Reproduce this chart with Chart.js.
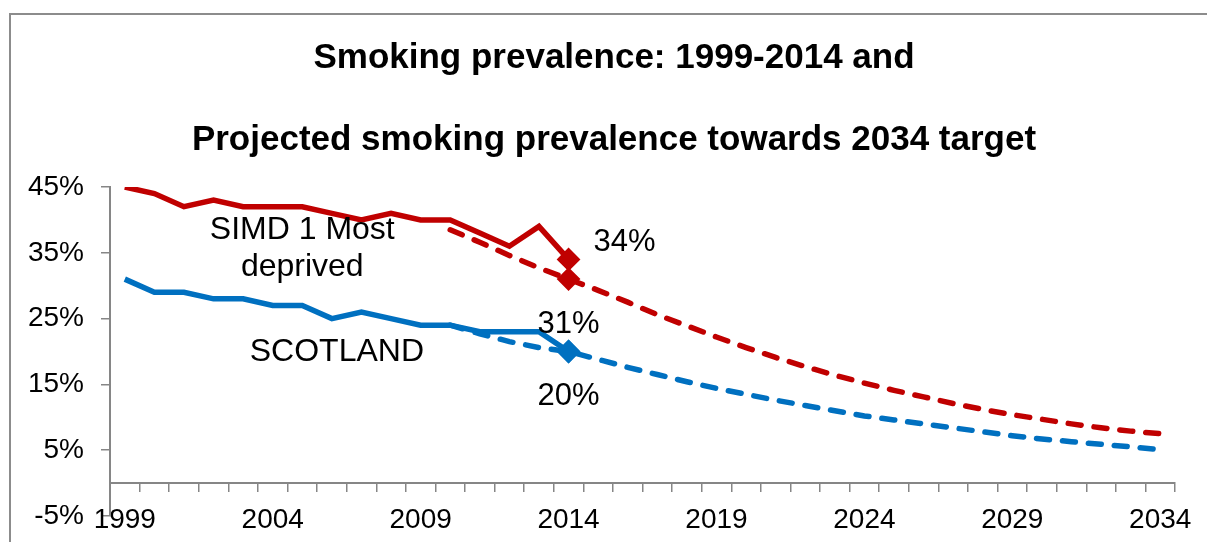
<!DOCTYPE html>
<html>
<head>
<meta charset="utf-8">
<title>Smoking prevalence</title>
<script src="https://cdn.jsdelivr.net/npm/chart.js@4.4.1/dist/chart.umd.min.js"></script>
<style>
  html, body { margin: 0; padding: 0; background: #fff; }
  #wrap { width: 1207px; height: 542px; }
</style>
</head>
<body>
<div id="wrap"><canvas id="smokingChart" width="1207" height="542"></canvas></div>
<script>
// Years on the x axis (one category per year)
const years = ['1999', '2000', '2001', '2002', '2003', '2004', '2005', '2006', '2007', '2008',
    '2009', '2010', '2011', '2012', '2013', '2014', '2015', '2016', '2017', '2018',
    '2019', '2020', '2021', '2022', '2023', '2024', '2025', '2026', '2027', '2028',
    '2029', '2030', '2031', '2032', '2033', '2034'];

// Observed prevalence (%), 1999-2014
const simdObserved = [45, 44, 42, 43, 42, 42, 42, 41, 40, 41, 40, 40, 38, 36, 39, 34];
const scotlandObserved = [31, 29, 29, 28, 28, 27, 27, 25, 26, 25, 24, 24, 23, 23, 23, 20];

// Projected prevalence (%), 2010-2034
const projectionStart = '2010';
const simdProjected = [38.5, 36.6, 34.6, 32.7, 31, 29.3, 27.5, 25.6, 23.9, 22.2, 20.6, 19.1, 17.7,
    16.4, 15.2, 14.1, 13.1, 12.1, 11.2, 10.4, 9.7, 9.0, 8.4, 7.9, 7.5];
const scotlandProjected = [24, 22.7, 21.5, 20.6, 20, 18.8, 17.6, 16.5, 15.4, 14.4, 13.5, 12.6, 11.8,
    11.0, 10.2, 9.6, 9.0, 8.4, 7.8, 7.2, 6.7, 6.3, 5.9, 5.5, 5.1];

// Y axis tick values (%)
const yTicks = [-5, 5, 15, 25, 35, 45];

const RED = '#C00000';
const BLUE = '#0070C0';
const AXIS_GREY = '#868686';
const FONT = "'Liberation Sans', Arial, sans-serif";
const markerYear = years.indexOf('2014');

// pad a series out to the full year range
function spread(values, firstYear) {
    const start = years.indexOf(firstYear);
    return years.map((y, i) => (i >= start && i < start + values.length) ? values[i - start] : null);
}

function endMarker(ctx) {
    return ctx.dataIndex === markerYear ? 8 : 0;
}

// Excel-style outer chart border; also centre the title on the framed area
const frame = {
    id: 'frame',
    afterLayout(chart) {
        if (chart.titleBlock) chart.titleBlock.left = 53;
    },
    beforeDraw(chart) {
        const c = chart.ctx;
        c.save();
        c.strokeStyle = '#8c8c8c';
        c.lineWidth = 2;
        c.strokeRect(10, 14, chart.width + 20, chart.height + 20);
        c.restore();
    }
};

// Series names and value call-outs written straight onto the plot
const notes = {
    id: 'notes',
    afterDatasetsDraw(chart, args, opts) {
        const c = chart.ctx;
        const xs = chart.scales.x;
        const ys = chart.scales.y;
        c.save();
        c.fillStyle = '#000';
        c.textAlign = 'center';
        c.textBaseline = 'middle';
        c.font = opts.nameFont;
        opts.names.forEach(n => {
            const px = xs.getPixelForValue(n.x);
            n.lines.forEach((line, k) => {
                c.fillText(line, px, ys.getPixelForValue(n.y) + k * n.gap);
            });
        });
        c.font = opts.valueFont;
        opts.values.forEach(v => {
            const ds = chart.data.datasets[v.dataset];
            const val = ds.data[markerYear];
            const px = xs.getPixelForValue(markerYear) + v.dx;
            const py = ys.getPixelForValue(val) + v.dy;
            c.fillText(Math.round(val) + '%', px, py);
        });
        c.restore();
    }
};

const ctx = document.getElementById('smokingChart').getContext('2d');
const smokingChart = new Chart(ctx, {
    type: 'line',
    data: {
        labels: years,
        datasets: [{
            label: 'SIMD 1 Most deprived',
            data: spread(simdObserved, '1999'),
            borderColor: RED, backgroundColor: RED, borderWidth: 5.5,
            pointStyle: 'rectRot', pointRadius: endMarker, order: 0
        }, {
            label: 'SCOTLAND',
            data: spread(scotlandObserved, '1999'),
            borderColor: BLUE, backgroundColor: BLUE, borderWidth: 5.5,
            pointStyle: 'rectRot', pointRadius: endMarker, order: 1
        }, {
            label: 'SIMD 1 projected',
            data: spread(simdProjected, projectionStart),
            borderColor: RED, backgroundColor: RED, borderWidth: 5.5,
            borderDash: [13, 13], borderCapStyle: 'round',
            pointStyle: 'rectRot', pointRadius: endMarker, order: 2
        }, {
            label: 'SCOTLAND projected',
            data: spread(scotlandProjected, projectionStart),
            borderColor: BLUE, backgroundColor: BLUE, borderWidth: 5.5,
            borderDash: [13, 13], borderCapStyle: 'round',
            pointStyle: 'rectRot', pointRadius: endMarker, order: 3
        }]
    },
    options: {
        responsive: false,
        animation: false,
        spanGaps: false,
        layout: { padding: { top: 0, left: 0, right: 32, bottom: 26 } },
        plugins: {
            legend: { display: false },
            tooltip: { enabled: false },
            title: {
                display: true,
                text: ['Smoking prevalence: 1999-2014 and', 'Projected smoking prevalence towards 2034 target'],
                color: '#000',
                font: { family: FONT, size: 35, weight: 'bold', lineHeight: 82 / 35 },
                padding: { top: 17, bottom: 6 }
            },
            notes: {
                nameFont: '32px ' + FONT,
                valueFont: '31px ' + FONT,
                names: [
                    { lines: ['SIMD 1 Most', 'deprived'], x: 6, y: 38.4, gap: 37 },
                    { lines: ['SCOTLAND'], x: 7.17, y: 19.9, gap: 0 }
                ],
                values: [
                    { dataset: 0, dx: 56, dy: -17 },
                    { dataset: 2, dx: 0, dy: 45 },
                    { dataset: 1, dx: 0, dy: 45 }
                ]
            }
        },
        scales: {
            x: {
                type: 'category',
                position: { y: 0 },
                offset: true,
                grid: {
                    offset: true, drawOnChartArea: false, drawTicks: true,
                    tickLength: 8, color: AXIS_GREY, lineWidth: 1.5
                },
                border: { color: AXIS_GREY, width: 2 },
                ticks: {
                    autoSkip: false, maxRotation: 0, padding: 12,
                    color: '#000', font: { family: FONT, size: 28 },
                    callback: (v, i) => (i % 5 === 0 ? years[i] : '')
                }
            },
            y: {
                min: yTicks[0],
                max: yTicks[yTicks.length - 1],
                afterFit: s => {
                    s.width = 110;
                    s.paddingTop = 0;
                    s.paddingBottom = 0;
                },
                afterBuildTicks: s => { s.ticks = yTicks.map(v => ({ value: v })); },
                grid: {
                    drawOnChartArea: false, drawTicks: true, tickLength: 9,
                    color: AXIS_GREY, lineWidth: 1.5
                },
                border: { color: AXIS_GREY, width: 2 },
                ticks: {
                    padding: 17, color: '#000', font: { family: FONT, size: 28 },
                    callback: v => v + '%'
                }
            }
        }
    },
    plugins: [frame, notes]
});
</script>
</body>
</html>
